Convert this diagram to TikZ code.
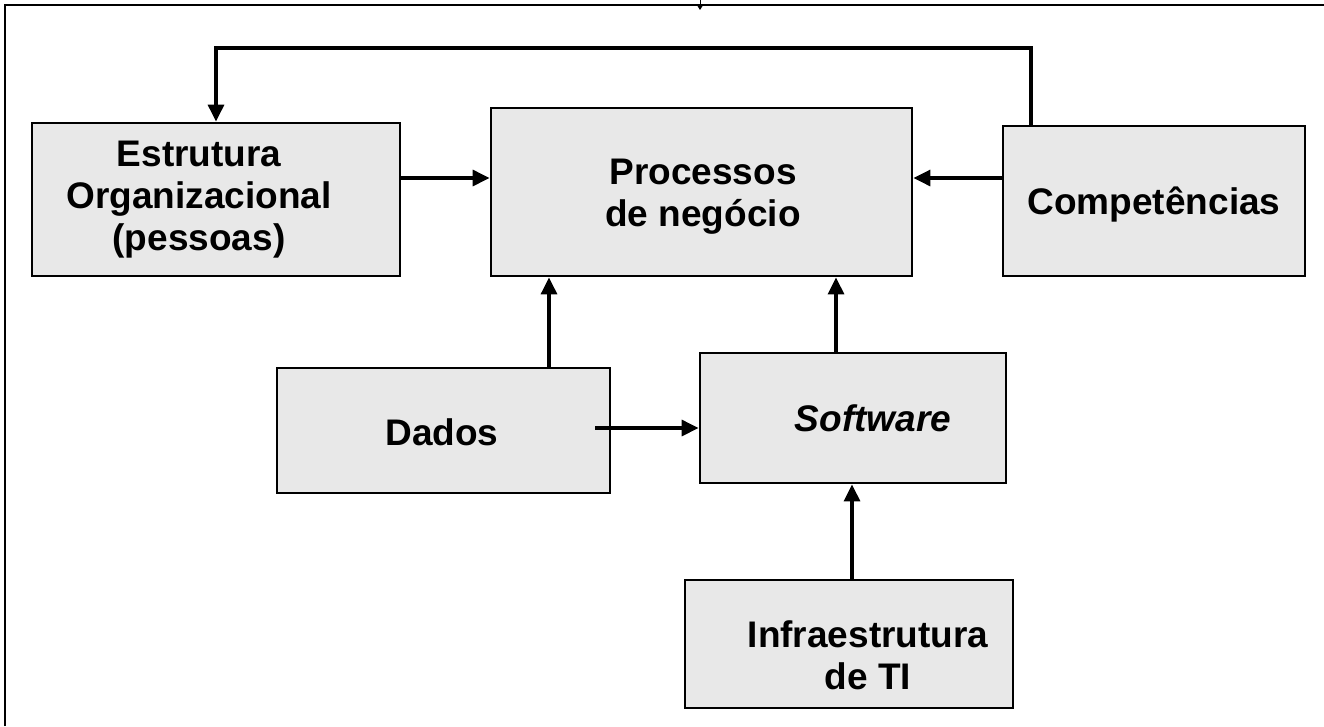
\documentclass[tikz,border=0pt]{standalone}
\usepackage{fontspec}
\setmainfont{Liberation Sans}
\usetikzlibrary{arrows.meta}
\definecolor{boxfill}{RGB}{232,232,232}
\tikzset{
  box/.style={draw=black, line width=2.8pt, fill=boxfill, rectangle, inner sep=0pt},
  lbl/.style={font=\fontsize{37}{42}\selectfont\bfseries, align=center, inner sep=0pt},
  arr/.style={line width=3.2pt, -{Triangle[length=17pt,width=16pt]}},
}
\begin{document}
\begin{tikzpicture}[x=1pt,y=-1pt]
\useasboundingbox (0,0) rectangle (1324,726);

% frame
\draw[line width=2.8pt] (5,726) -- (5,5) -- (1324,5);
\draw[line width=1pt, -{Triangle[length=5pt,width=6pt]}] (700,0) -- (700,10);

% boxes
\node[box, minimum width=368pt, minimum height=153pt] (est) at (216,199.5) {};
\node[box, minimum width=421pt, minimum height=168pt] (proc) at (701.5,192) {};
\node[box, minimum width=302pt, minimum height=150pt] (comp) at (1154,201) {};
\node[box, minimum width=333pt, minimum height=125pt] (dados) at (443.5,430.5) {};
\node[box, minimum width=306pt, minimum height=130pt] (soft) at (853,418) {};
\node[box, minimum width=328pt, minimum height=128pt] (infra) at (849,644) {};

% labels
\node[lbl] (estT) at (199,200) {Estrutura\\Organizacional\\(pessoas)};
\node[lbl] (procT) at (703,197) {Processos\\de negócio};
\node[lbl] (compT) at (1154,205) {Competências};
\node[lbl] (dadosT) at (442,432) {Dados};
\node[lbl, font=\fontsize{37}{42}\selectfont\bfseries\itshape] (softT) at (873,418) {Software};
\node[lbl] (infraT) at (868,655) {Infraestrutura\\de TI};

% connectors
\coordinate (fbR) at (1031,48);
\coordinate (fbL) at (216,48);
\draw[arr] (comp.north -| fbR) -- (fbR) -- (fbL) -- (est.north -| fbL);
\draw[arr] (est.east |- 0,178) -- (proc.west |- 0,178);
\draw[arr] (comp.west |- 0,178) -- (proc.east |- 0,178);
\draw[arr] (dados.north -| 549,0) -- (proc.south -| 549,0);
\draw[arr] (soft.north -| 836,0) -- (proc.south -| 836,0);
\draw[arr] (595,428) -- (soft.west |- 0,428);
\draw[arr] (infra.north -| 852,0) -- (soft.south -| 852,0);
\end{tikzpicture}
\end{document}
